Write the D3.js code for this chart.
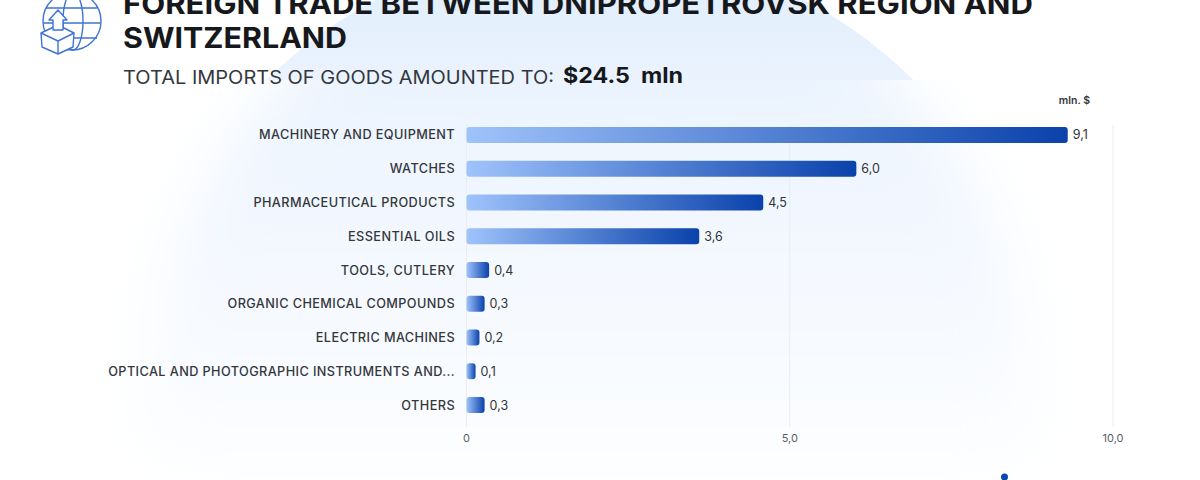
<!DOCTYPE html>
<html>
<head>
<meta charset="utf-8">
<script src="https://cdn.jsdelivr.net/npm/d3@7"></script>
<style>
  html, body { margin: 0; background: #fff; overflow: hidden; }
  svg { display: block; font-family: Inter, "Open Sans", sans-serif; }
</style>
</head>
<body>
<svg width="1200" height="480"></svg>
<script>
var categories = ['MACHINERY AND EQUIPMENT', 'WATCHES', 'PHARMACEUTICAL PRODUCTS', 'ESSENTIAL OILS',
    'TOOLS, CUTLERY', 'ORGANIC CHEMICAL COMPOUNDS', 'ELECTRIC MACHINES',
    'OPTICAL AND PHOTOGRAPHIC INSTRUMENTS AND...', 'OTHERS'];
// bar lengths as drawn in the picture, the printed labels are rounded differently
var barValues = [9.3, 6.03, 4.59, 3.6, 0.35, 0.28, 0.2, 0.14, 0.28];
var valueLabels = ['9,1', '6,0', '4,5', '3,6', '0,4', '0,3', '0,2', '0,1', '0,3'];
var xTicks = [0, 5, 10];
var xTickLabels = ['0', '5,0', '10,0'];

var svg = d3.select('svg');
var defs = svg.append('defs');

//scales
var xScale = d3.scaleLinear().domain([0, 10]).range([466.5, 1113]);
var yScale = d3.scaleBand().domain(categories).range([118.1, 421.9])
    .paddingInner(0.526).paddingOuter(0.263);

//background glow, hard edge above y=80 and blurred below
var blur = defs.append('filter').attr('id', 'blur')
    .attr('x', '-30%').attr('y', '-30%').attr('width', '160%').attr('height', '160%');
blur.append('feGaussianBlur').attr('stdDeviation', 30);
var glow = defs.append('linearGradient').attr('id', 'glow').attr('gradientUnits', 'userSpaceOnUse')
    .attr('x1', 0).attr('x2', 0).attr('y1', 0).attr('y2', 480);
glow.append('stop').attr('offset', 0).attr('stop-color', '#e3effd');
glow.append('stop').attr('offset', 0.27).attr('stop-color', '#eef5fe');
glow.append('stop').attr('offset', 0.6).attr('stop-color', '#f5f9ff');
glow.append('stop').attr('offset', 0.93).attr('stop-color', '#fbfdff');
glow.append('stop').attr('offset', 1).attr('stop-color', '#ffffff');
defs.append('clipPath').attr('id', 'clipTop').append('rect')
    .attr('x', 0).attr('y', 0).attr('width', 1200).attr('height', 80);
defs.append('clipPath').attr('id', 'clipBottom').append('rect')
    .attr('x', 0).attr('y', 80).attr('width', 1200).attr('height', 400);

svg.append('g').attr('clip-path', 'url(#clipBottom)').append('circle')
    .attr('cx', 590).attr('cy', 407).attr('r', 445)
    .attr('fill', 'url(#glow)').attr('filter', 'url(#blur)');
svg.append('g').attr('clip-path', 'url(#clipTop)').append('circle')
    .attr('cx', 590).attr('cy', 407).attr('r', 460)
    .attr('fill', 'url(#glow)');

//bar gradient
var barFill = defs.append('linearGradient').attr('id', 'barFill');
barFill.append('stop').attr('offset', 0).attr('stop-color', '#9fc3fb');
barFill.append('stop').attr('offset', 1).attr('stop-color', '#0a42ab');

//grid
svg.append('g').selectAll('line').data(xTicks).enter().append('line')
    .attr('x1', d => xScale(d)).attr('x2', d => xScale(d))
    .attr('y1', 125).attr('y2', 427)
    .attr('stroke', '#e9edf2').attr('stroke-width', 1);

//bars
svg.append('g').selectAll('rect').data(categories).enter().append('rect')
    .attr('x', xScale(0))
    .attr('y', d => yScale(d))
    .attr('width', (d, i) => xScale(barValues[i]) - xScale(0))
    .attr('height', yScale.bandwidth())
    .attr('rx', 3)
    .attr('fill', 'url(#barFill)');

//category labels, stretched a bit since the original font is wider
svg.append('g').selectAll('text').data(categories).enter().append('text')
    .attr('transform', d => 'translate(' + [455, yScale(d) + yScale.bandwidth() / 2] + ') scale(1.015,1)')
    .attr('dy', '0.36em')
    .attr('text-anchor', 'end')
    .attr('font-size', 12.5)
    .attr('font-weight', 500)
    .attr('letter-spacing', 0.42)
    .attr('fill', '#33373c')
    .text(d => d);

//value labels
svg.append('g').selectAll('text').data(categories).enter().append('text')
    .attr('x', (d, i) => xScale(barValues[i]) + 5)
    .attr('y', d => yScale(d) + yScale.bandwidth() / 2)
    .attr('dy', '0.36em')
    .attr('font-size', 12.5)
    .attr('fill', '#2f3338')
    .text((d, i) => valueLabels[i]);

//x axis labels
svg.append('g').selectAll('text').data(xTicks).enter().append('text')
    .attr('x', d => xScale(d))
    .attr('y', 438.5)
    .attr('dy', '0.36em')
    .attr('text-anchor', 'middle')
    .attr('font-size', 11)
    .attr('fill', '#5a5f66')
    .text((d, i) => xTickLabels[i]);

svg.append('text').attr('x', 1090).attr('y', 104).attr('text-anchor', 'end')
    .attr('font-size', 10.5).attr('font-weight', 600).attr('fill', '#33373d').text('mln. $');

//titles
svg.append('text').attr('x', 123).attr('y', 14)
    .attr('font-size', 28).attr('font-weight', 700).attr('fill', '#16181c')
    .attr('textLength', 910).attr('lengthAdjust', 'spacingAndGlyphs')
    .text('FOREIGN TRADE BETWEEN DNIPROPETROVSK REGION AND');
svg.append('text').attr('x', 123).attr('y', 48)
    .attr('font-size', 28).attr('font-weight', 700).attr('fill', '#16181c')
    .attr('textLength', 224).attr('lengthAdjust', 'spacingAndGlyphs')
    .text('SWITZERLAND');
svg.append('text').attr('x', 123).attr('y', 83.5)
    .attr('font-size', 18.5).attr('fill', '#33373d')
    .attr('textLength', 431).attr('lengthAdjust', 'spacingAndGlyphs')
    .text('TOTAL IMPORTS OF GOODS AMOUNTED TO:');
svg.append('text').attr('x', 563).attr('y', 83)
    .attr('font-size', 21).attr('font-weight', 700).attr('fill', '#16181c')
    .attr('textLength', 120).attr('lengthAdjust', 'spacingAndGlyphs')
    .style('white-space', 'pre')
    .text('$24.5  mln');

//icon, globe with a box
var icon = svg.append('g').attr('fill', 'none').attr('stroke', '#3f74d4').attr('stroke-width', 1.4)
    .attr('stroke-linejoin', 'round');
icon.append('circle').attr('cx', 72).attr('cy', 21).attr('r', 29);
icon.append('ellipse').attr('cx', 73).attr('cy', 21).attr('rx', 10).attr('ry', 29);
icon.append('path').attr('d', 'M46 8 H97 M43 23 H101 M46 38 H97');
var box = icon.append('g').attr('fill', '#fff');
box.append('path').attr('d', 'M41 33 L58 25 L74 33 L73 47 L58 54 L42 47 Z');
box.append('path').attr('d', 'M41 33 L58 41 L74 33 M58 41 V54');
box.append('path').attr('d', 'M53 30 V20 H49 L58 10 L67 20 H63 V30 Z');

svg.append('circle').attr('cx', 1004.5).attr('cy', 477).attr('r', 3.5).attr('fill', '#0a47b0');
</script>
</body>
</html>
